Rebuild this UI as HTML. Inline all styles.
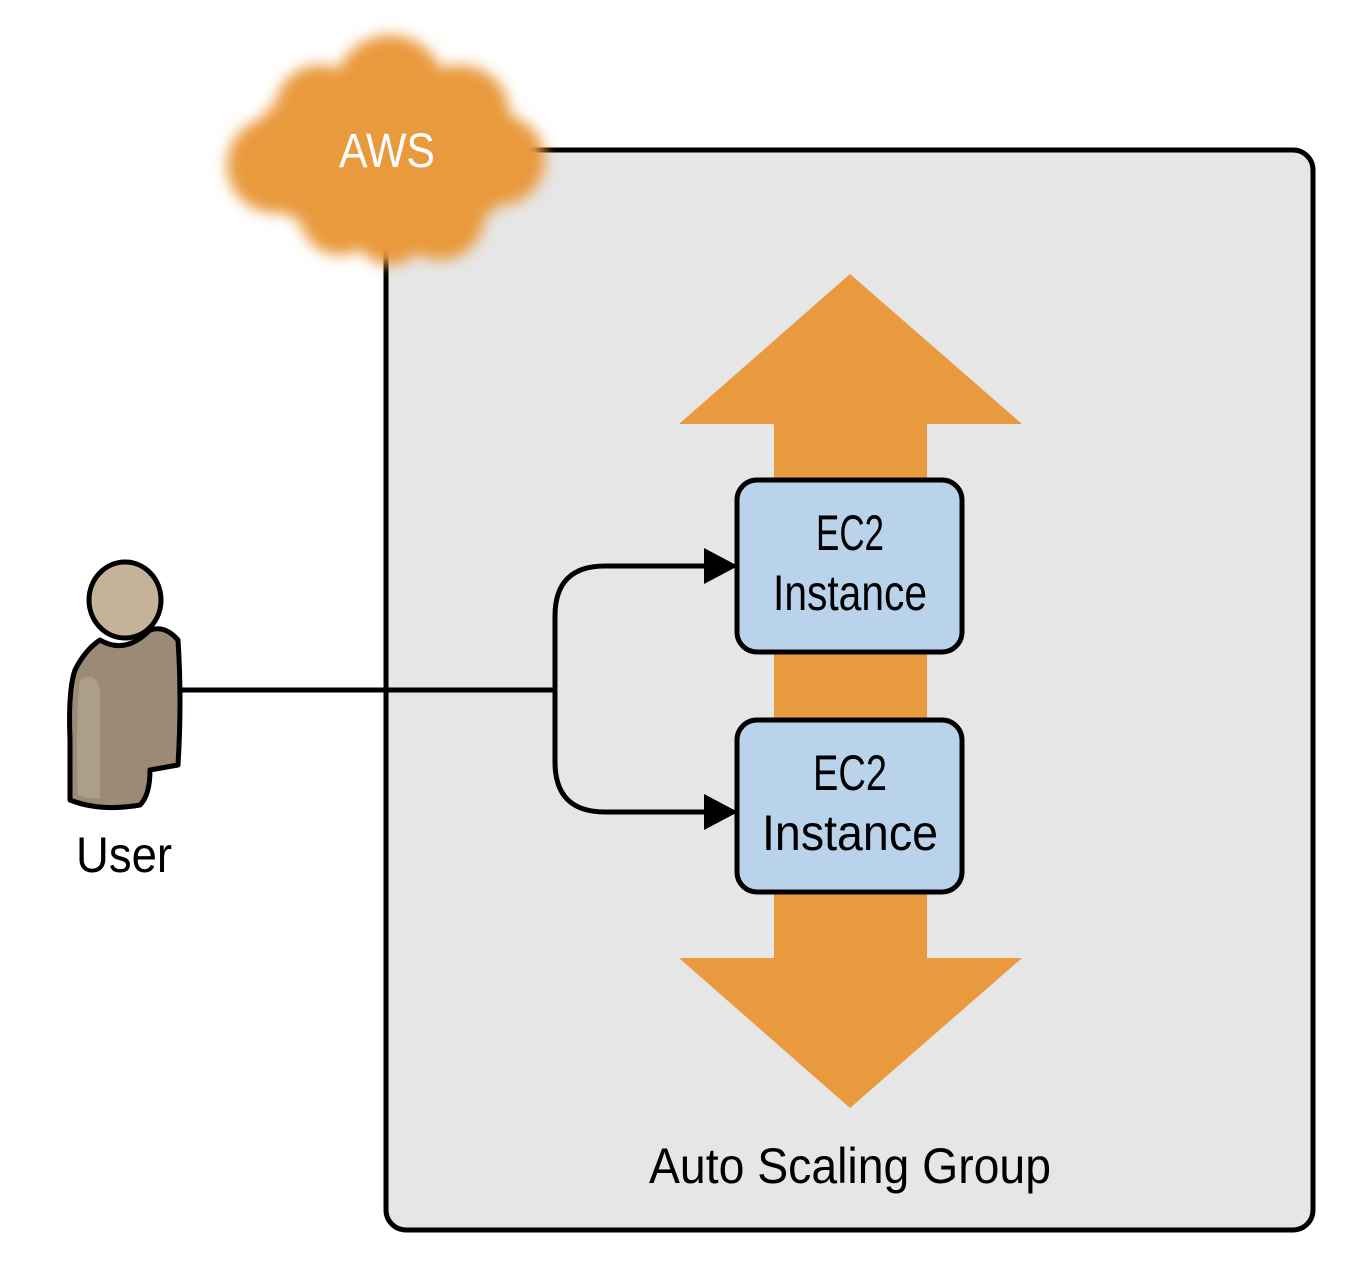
<!DOCTYPE html>
<html><head><meta charset="utf-8"><style>html,body{margin:0;padding:0;background:#fff}svg{display:block}</style></head>
<body>
<svg width="1360" height="1262" viewBox="0 0 1360 1262" xmlns="http://www.w3.org/2000/svg">
<defs>
<filter id="blur" x="-20%" y="-20%" width="140%" height="140%"><feGaussianBlur stdDeviation="7"/></filter>
</defs>
<rect x="386" y="150" width="927" height="1080" rx="20" fill="#e6e6e6" stroke="#000" stroke-width="5"/>
<!-- cloud -->
<g fill="#e99a3e" filter="url(#blur)">
<ellipse cx="387" cy="155" rx="140" ry="85"/>
<circle cx="390" cy="90" r="55"/>
<circle cx="320" cy="110" r="45"/>
<circle cx="460" cy="115" r="50"/>
<circle cx="275" cy="165" r="48"/>
<circle cx="500" cy="160" r="45"/>
<circle cx="340" cy="215" r="40"/>
<circle cx="440" cy="215" r="45"/>
<circle cx="390" cy="230" r="35"/>
</g>
<text x="387" y="167" font-family="Liberation Sans, sans-serif" font-size="48" fill="#fff" text-anchor="middle" textLength="96" lengthAdjust="spacingAndGlyphs">AWS</text>
<!-- double arrow -->
<polygon points="850,274 1022,424 927,424 927,958 1022,958 850,1108 679,958 774,958 774,424 679,424" fill="#e99a3e"/>
<!-- connectors -->
<path d="M180 690 H555 M555 690 V616 Q555 566 605 566 H708 M555 690 V762 Q555 812 605 812 H708" fill="none" stroke="#000" stroke-width="5"/>
<polygon points="704,548 738,566 704,584" fill="#000"/>
<polygon points="704,794 738,812 704,830" fill="#000"/>
<!-- EC2 boxes -->
<rect x="737" y="480" width="225" height="172" rx="20" fill="#b8d3ea" stroke="#000" stroke-width="5"/>
<rect x="737" y="720" width="225" height="172" rx="20" fill="#b8d3ea" stroke="#000" stroke-width="5"/>
<g font-family="Liberation Sans, sans-serif" font-size="50" fill="#000" text-anchor="middle">
<text x="850" y="550" textLength="68" lengthAdjust="spacingAndGlyphs">EC2</text>
<text x="850" y="610" textLength="154" lengthAdjust="spacingAndGlyphs">Instance</text>
<text x="850" y="790" textLength="74" lengthAdjust="spacingAndGlyphs">EC2</text>
<text x="850" y="850" textLength="176" lengthAdjust="spacingAndGlyphs">Instance</text>
<text x="850" y="1183" textLength="402" lengthAdjust="spacingAndGlyphs">Auto Scaling Group</text>
<text x="124" y="872" textLength="96" lengthAdjust="spacingAndGlyphs">User</text>
</g>
<!-- user -->
<path d="M100 640 Q85 650 75 670 Q68 690 70 740 L70 800 Q100 812 140 805 Q150 795 150 770 L178 765 Q182 700 178 640 Q165 625 150 630 Q125 655 100 640 Z" fill="#9b8b76" stroke="#000" stroke-width="5" stroke-linejoin="round"/>
<path d="M80 680 Q75 720 78 795 Q90 800 100 798 L100 690 Q95 670 80 680Z" fill="#ad9e88"/>
<ellipse cx="125" cy="600" rx="36" ry="38" fill="#c4b299" stroke="#000" stroke-width="5"/>
</svg>
</body></html>
